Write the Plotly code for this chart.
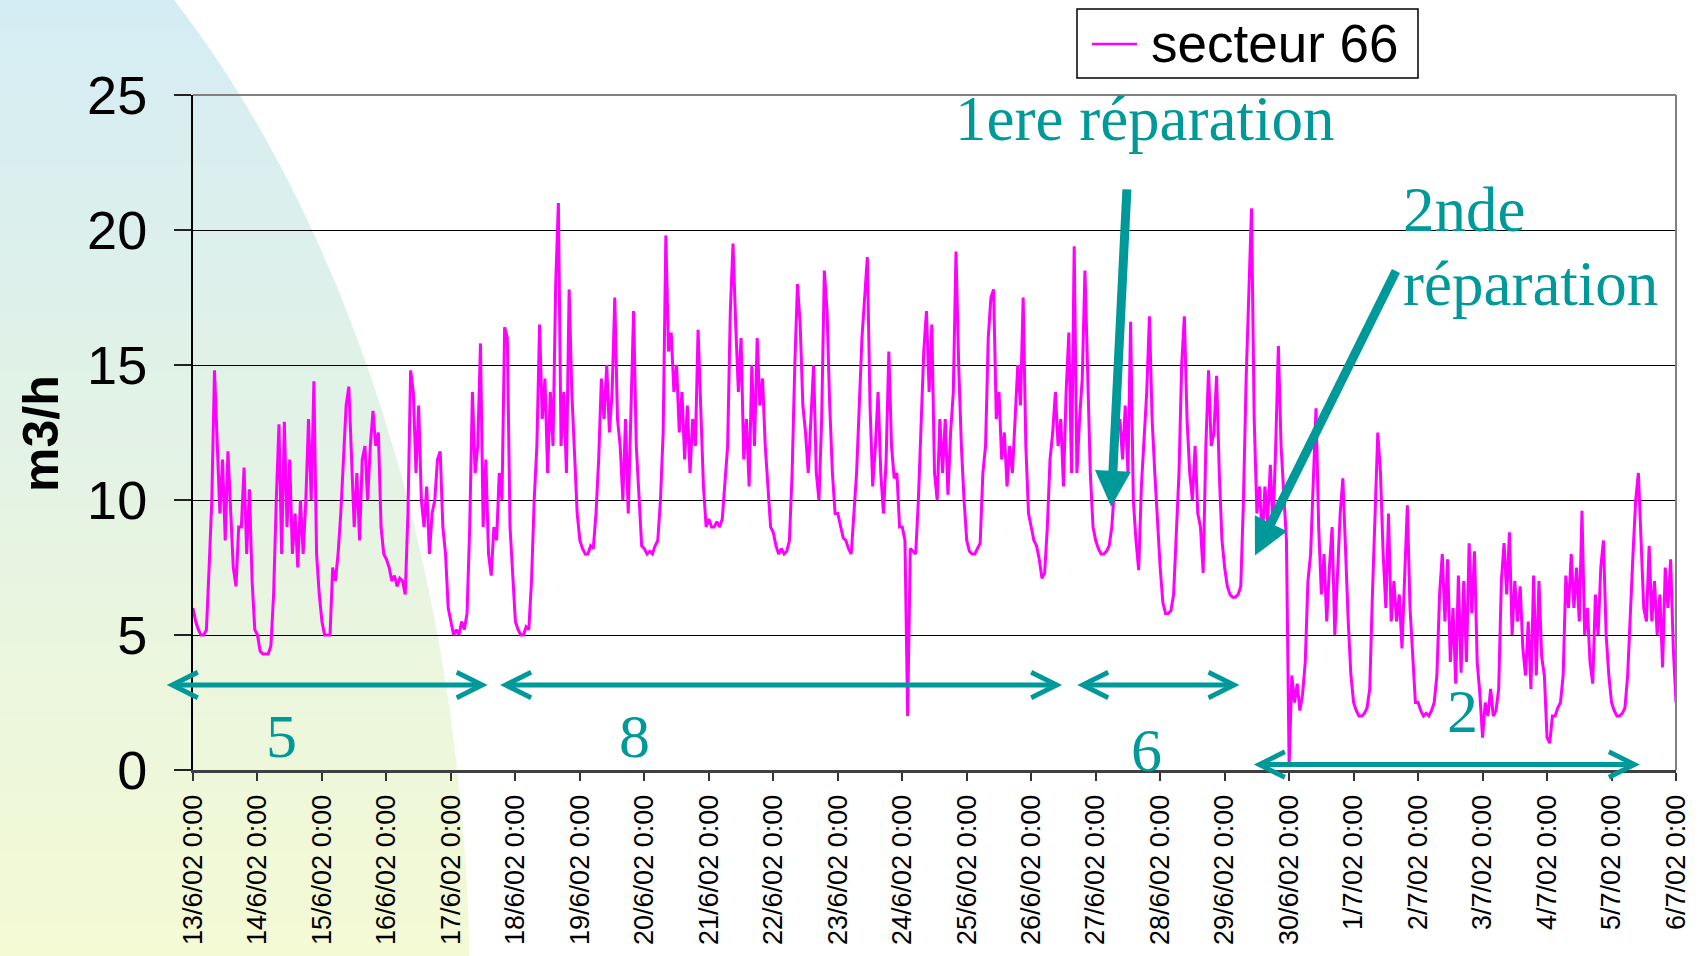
import numpy as np
import pandas as pd
import plotly.graph_objects as go

# debit horaire du secteur 66 (m3/h): une liste par jour, 0h -> 23h
d13_06 = [6, 5.5, 5.2, 5, 5, 5.2, 7.5, 10, 14.8, 12, 9.5, 11.5, 8.5, 11.8, 9.5, 7.5, 6.8, 9, 9, 11.2, 8, 10.4, 7, 5.2]
d14_06 = [5, 4.4, 4.3, 4.3, 4.3, 4.6, 6.5, 10, 12.8, 8, 12.9, 9, 11.5, 8, 9.5, 7.5, 10, 8, 10, 13, 10, 14.4, 8, 6.5]
d15_06 = [5.5, 5, 5, 5, 7.5, 7, 8, 9.5, 11.5, 13.5, 14.2, 11.5, 9, 11, 8.5, 11.5, 12, 10, 12, 13.3, 12, 12.5, 9, 8]
d16_06 = [7.8, 7.5, 7, 7.2, 6.8, 7.1, 7, 6.5, 9.5, 14.8, 14, 11, 13.5, 10, 9, 10.5, 8, 9.5, 10, 11.5, 11.8, 9, 8, 6]
d17_06 = [5.5, 5, 5.2, 5, 5.5, 5.2, 5.8, 9, 14, 11, 12, 15.8, 9, 11.5, 8, 7.2, 9, 8.5, 11, 10, 16.4, 16, 9, 7]
d18_06 = [5.5, 5.2, 5, 5, 5.3, 5.2, 7, 10, 12, 16.5, 13, 14.5, 11, 14, 12, 18, 21, 12, 14, 11, 17.8, 14, 12, 9.5]
d19_06 = [8.5, 8.2, 8, 8, 8.3, 8.2, 9.5, 11.5, 14.5, 13, 15, 12.5, 14, 17.5, 13, 12, 10, 13, 9.5, 13.5, 17, 12, 10, 8.3]
d20_06 = [8.2, 8, 8.1, 8, 8.3, 8.5, 10, 12.5, 19.8, 15.5, 16.2, 14, 15, 12.5, 14, 11.5, 13.5, 11, 13, 12, 16.3, 13, 10.5, 9]
d21_06 = [9.3, 9, 9, 9.2, 9, 9.3, 10.5, 12, 17, 19.5, 16.5, 14, 16, 11.5, 13, 10.5, 15, 12, 16, 13.5, 14.5, 12, 10.5, 9]
d22_06 = [8.8, 8.3, 8, 8.2, 8, 8.1, 8.5, 11, 15, 18, 16.5, 13.5, 12.5, 11, 13, 15, 11, 10, 13, 18.5, 17, 13.5, 11, 9.5]
d23_06 = [9.5, 9, 8.6, 8.5, 8.2, 8, 9.5, 11, 13.5, 16, 17.5, 19, 13.5, 10.5, 12, 14, 11, 9.5, 11.5, 15.5, 12, 10.8, 11, 9]
d24_06 = [9, 8.5, 2.0, 8.2, 8.1, 8, 10, 13, 15.5, 17, 14, 16.5, 11, 10, 13, 11, 13, 10.2, 12.5, 14, 19.2, 15, 12, 10]
d25_06 = [8.5, 8.1, 8, 8, 8.2, 8.4, 11, 12, 16, 17.5, 17.8, 13, 14, 11.5, 12.5, 10.5, 12, 11, 13, 15, 13.5, 17.5, 12, 9.5]
d26_06 = [9, 8.5, 8.3, 7.8, 7.1, 7.3, 9, 11.5, 12.5, 14, 12, 13, 10.5, 14, 16.2, 11, 19.4, 11, 13, 14.5, 18.5, 15, 11, 9]
d27_06 = [8.5, 8.2, 8, 8, 8.1, 8.3, 9, 10.5, 12.5, 13, 11.5, 13.5, 11, 16.6, 10, 8.5, 7.4, 10.5, 12.5, 14, 16.8, 13, 11, 9]
d28_06 = [7.5, 6.2, 5.8, 5.8, 5.9, 6.5, 9, 11, 15, 16.8, 13, 11, 10, 12, 9.5, 9, 7.3, 12, 14.8, 12, 12.5, 14.6, 11, 8.5]
d29_06 = [7.5, 6.8, 6.5, 6.4, 6.4, 6.5, 6.8, 10, 14.5, 17.5, 20.8, 13, 9.5, 10.5, 8.5, 10.5, 9.2, 11.3, 9, 12, 15.7, 12, 10, 8.5]
d30_06 = [0.2, 3.5, 2.5, 3.2, 2.2, 2.8, 4, 7, 8, 11, 13.4, 9, 6.5, 8, 5.5, 7.5, 9, 5, 7.5, 9.5, 10.8, 8, 5.5, 3.5]
d01_07 = [2.5, 2.2, 2, 2, 2.1, 2.3, 3, 6.5, 9.5, 12.5, 11, 8, 6, 9.5, 5.5, 7, 5.5, 6.5, 4.5, 7, 9.8, 6, 4, 2.5]
d02_07 = [2.5, 2.2, 2, 2.1, 2, 2.2, 2.5, 3.5, 6.5, 8, 5.5, 7.8, 4, 6, 3.2, 7.2, 3.6, 7, 4, 8.4, 5.8, 8.1, 4, 2.8]
d03_07 = [1.2, 2.5, 2, 3, 2, 2.2, 3, 7, 8.4, 6.5, 8.8, 5, 7, 5.5, 6.8, 4.5, 3.5, 5.5, 3, 7.2, 3.5, 7, 4.2, 3.5]
d04_07 = [1.2, 1.0, 2, 2, 2.3, 2.5, 3.5, 7.2, 6, 8, 6, 7.5, 5.5, 9.6, 5, 6, 4, 3.2, 6.5, 5, 7.5, 8.5, 5, 3.5]
d05_07 = [2.5, 2.2, 2, 2, 2.1, 2.3, 3.5, 6, 8, 10, 11, 8.5, 6, 5.5, 8.3, 5.5, 7, 5, 6.5, 3.8, 7.5, 6, 7.8, 4.5]
d06_07 = [2.5]  # 6/7/02 0:00

day_labels = ['13/6/02 0:00', '14/6/02 0:00', '15/6/02 0:00', '16/6/02 0:00', '17/6/02 0:00',
              '18/6/02 0:00', '19/6/02 0:00', '20/6/02 0:00', '21/6/02 0:00', '22/6/02 0:00',
              '23/6/02 0:00', '24/6/02 0:00', '25/6/02 0:00', '26/6/02 0:00', '27/6/02 0:00',
              '28/6/02 0:00', '29/6/02 0:00', '30/6/02 0:00', '1/7/02 0:00', '2/7/02 0:00',
              '3/7/02 0:00', '4/7/02 0:00', '5/7/02 0:00', '6/7/02 0:00']

days = [d13_06, d14_06, d15_06, d16_06, d17_06, d18_06, d19_06, d20_06, d21_06, d22_06,
        d23_06, d24_06, d25_06, d26_06, d27_06, d28_06, d29_06, d30_06, d01_07, d02_07,
        d03_07, d04_07, d05_07, d06_07]
flow = [v for d in days for v in d]

start = pd.Timestamp('2002-06-13 00:00')
t = pd.date_range(start, periods=len(flow), freq='h')
day_ticks = pd.date_range(start, periods=len(day_labels), freq='D')

TEAL = '#009999'
SANS = 'Liberation Sans, Arial, sans-serif'
SERIF = 'Liberation Serif, Times New Roman, serif'

W, H = 1701, 956
L, R, T, B = 193, 25, 95, 186
PW, PH = W - L - R, H - T - B


def px(X):
    return (X - L) / PW


def py(Y):
    return (H - B - Y) / PH


def day(d):
    return start + pd.Timedelta(days=d)


fig = go.Figure()
fig.add_trace(go.Scatter(x=t, y=flow, mode='lines', name='secteur 66', showlegend=False,
                         line=dict(color='#ff00ff', width=3)))

# fond degrade du modele de diapo (quart d'ellipse en bas a gauche)
def edge(Y):
    return -300 + 770 * np.sqrt(max(0.0, 1 - ((Y - 1000) / 1269) ** 2))


shapes = []
nb = 64
c_top = np.array([212, 236, 244])
c_bot = np.array([244, 250, 212])
for i in range(nb):
    y1 = H * i / nb
    y2 = min(H, H * (i + 1) / nb + 1.5)
    c = c_top + (c_bot - c_top) * (i + 0.5) / nb
    path = (f'M {px(0)},{py(y1)} L {px(edge(y1))},{py(y1)} L {px(edge(y2))},{py(y2)} '
            f'L {px(0)},{py(y2)} Z')
    shapes.append(dict(type='path', path=path, xref='paper', yref='paper', layer='below',
                       fillcolor='rgb(%d,%d,%d)' % tuple(c.round()), line=dict(width=0)))

# cadre gris haut / droite
shapes.append(dict(type='line', xref='paper', yref='paper', x0=0, x1=1, y0=1, y1=1,
                   line=dict(color='#808080', width=2)))
shapes.append(dict(type='line', xref='paper', yref='paper', x0=1, x1=1, y0=0, y1=1,
                   line=dict(color='#808080', width=2)))

# legende
shapes.append(dict(type='rect', xref='paper', yref='paper', x0=px(1077), x1=px(1418),
                   y0=py(78), y1=py(9), fillcolor='white', line=dict(color='black', width=1.5)))
shapes.append(dict(type='line', xref='paper', yref='paper', x0=px(1092), x1=px(1137),
                   y0=py(44), y1=py(44), line=dict(color='#ff00ff', width=2.5)))

annotations = [dict(text='secteur 66', x=px(1149), y=py(44), xref='paper', yref='paper',
                    xanchor='left', yanchor='middle', showarrow=False,
                    font=dict(family=SANS, size=53, color='black'))]

# fleches des reparations
for head, tail in [((14.24, 9.75), (14.485, 21.56)), ((16.47, 7.94), (18.668, 18.54))]:
    annotations.append(dict(x=day(head[0]), y=head[1], ax=day(tail[0]), ay=tail[1],
                            xref='x', yref='y', axref='x', ayref='y', text='',
                            showarrow=True, arrowhead=2, arrowsize=0.8, arrowwidth=9,
                            arrowcolor=TEAL))
# doubles fleches des periodes
for x0, x1, yv in [(-0.43, 4.57, 3.15), (4.74, 13.48, 3.15), (13.69, 16.23, 3.15), (16.43, 22.44, 0.2)]:
    annotations.append(dict(x=day(x1), y=yv, ax=day(x0), ay=yv,
                            xref='x', yref='y', axref='x', ayref='y', text='',
                            showarrow=True, arrowhead=5, startarrowhead=5, arrowside='end+start',
                            arrowsize=1.0, startarrowsize=1.0, arrowwidth=5, arrowcolor=TEAL))

for txt, X, Y in [('5', 281, 736), ('8', 634, 736), ('6', 1146, 750), ('2', 1462, 711)]:
    annotations.append(dict(text=txt, x=px(X), y=py(Y), xref='paper', yref='paper',
                            xanchor='center', yanchor='middle', showarrow=False,
                            font=dict(family=SERIF, size=62, color=TEAL)))

for txt, X, Y in [('1ere réparation', 953, 119), ('2nde', 1401, 210), ('réparation', 1401, 284)]:
    annotations.append(dict(text=txt, x=px(X), y=py(Y), xref='paper', yref='paper',
                            xanchor='left', yanchor='middle', showarrow=False,
                            font=dict(family=SERIF, size=63, color=TEAL)))

annotations.append(dict(text='<b>m3/h</b>', x=px(41), y=py(434), xref='paper', yref='paper',
                        xanchor='center', yanchor='middle', textangle=-90, showarrow=False,
                        font=dict(family=SANS, size=50, color='black')))

fig.update_layout(
    width=W, height=H,
    margin=dict(l=L, r=R, t=T, b=B, autoexpand=False),
    paper_bgcolor='white', plot_bgcolor='rgba(0,0,0,0)',
    shapes=shapes, annotations=annotations,
    showlegend=False,
    xaxis=dict(range=[day_ticks[0], day_ticks[-1]], tickvals=day_ticks, ticktext=day_labels,
               tickangle=-90, ticks='outside', ticklen=8, tickwidth=1.5, tickcolor='#333',
               showline=True, linecolor='#404040', linewidth=3, showgrid=False,
               automargin=False, ticklabelstandoff=3,
               tickfont=dict(family=SANS, size=27, color='black')),
    yaxis=dict(range=[0, 25], tickvals=[0, 5, 10, 15, 20, 25], ticks='outside', ticklen=17,
               tickwidth=1.5, tickcolor='#222', showline=True, linecolor='black', linewidth=2,
               showgrid=True, gridcolor='black', gridwidth=1, zeroline=False,
               automargin=False, ticklabelstandoff=16,
               tickfont=dict(family=SANS, size=54, color='black')),
)

# pas de marge autour du graphe dans la page, pas de barre d'outils
fig.write_html('out.html', config={'displayModeBar': False},
               post_script="document.body.style.margin='0';")
